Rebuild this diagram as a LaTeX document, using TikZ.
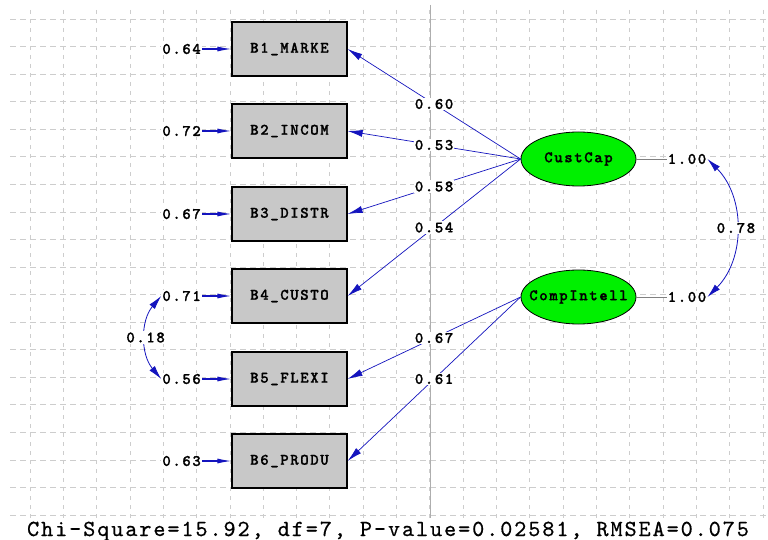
\documentclass[tikz,border=0pt]{standalone}
\usepackage{fontspec}
\newfontfamily\labfont{lmmonolt10-bold.otf}[LetterSpace=10.0, FakeBold=1.2]
\newfontfamily\botfont{lmmono10-regular.otf}[LetterSpace=8.5, FakeBold=0.6]
\usetikzlibrary{shapes.geometric,arrows.meta}
\definecolor{lblue}{RGB}{20,20,190}
\definecolor{gridc}{RGB}{205,205,205}
\definecolor{boxg}{RGB}{200,200,200}
\definecolor{latg}{RGB}{0,240,0}
\tikzset{
  lbl/.style={font=\labfont\fontsize{16}{17}\selectfont, fill=white, inner sep=1pt},
  obs/.style={rectangle, draw=black, line width=1.2pt, fill=boxg, minimum width=115pt, minimum height=54pt, inner sep=0pt, font=\labfont\fontsize{16}{17}\selectfont},
  lat/.style={ellipse, draw=black, line width=0.8pt, fill=latg, minimum width=115pt, minimum height=54pt, inner sep=0pt, font=\labfont\fontsize{16}{17}\selectfont},
  ld/.style={draw=lblue, line width=0.7pt, -{Latex[length=15pt,width=7pt]}},
  errarrow/.style={draw=lblue, line width=1.1pt, -{Latex[length=14pt,width=5pt]}},
  cov/.style={draw=lblue, line width=0.8pt, {Latex[length=14pt,width=7pt]}-{Latex[length=14pt,width=7pt]}},
  varline/.style={draw=gray, line width=0.6pt},
  hgrid/.style={draw=gridc, line width=0.8pt, dash pattern=on 6pt off 4pt},
  vgrid/.style={draw=gridc, line width=0.8pt, dash pattern=on 4pt off 5pt}
}
\begin{document}
\begin{tikzpicture}[x=1pt,y=-1pt]
\useasboundingbox (0,0) rectangle (768,540);
\fill[white] (0,0) rectangle (768,540);
% grid
\foreach \k in {0,...,18} \draw[hgrid] (10,{19+27.56*\k}) -- (768,{19+27.56*\k});
\foreach \k in {0,...,22} \draw[vgrid] ({30+33.32*\k},10) -- ({30+33.32*\k},518);
\draw[draw=gridc!85!black, line width=0.9pt] (430,5) -- (430,518);
% observed variables
\node[obs] (b1) at (289.5,49) {B1\_MARKE};
\node[obs] (b2) at (289.5,131) {B2\_INCOM};
\node[obs] (b3) at (289.5,214) {B3\_DISTR};
\node[obs] (b4) at (289.5,296) {B4\_CUSTO};
\node[obs] (b5) at (289.5,379) {B5\_FLEXI};
\node[obs] (b6) at (289.5,461) {B6\_PRODU};
% latent variables
\node[lat] (cc) at (578.5,159) {\makebox[0pt]{CustCap}};
\node[lat] (ci) at (578.5,297) {\makebox[0pt]{CompIntell}};
% error variances
\node[lbl, anchor=east] (e1) at (202,49) {0.64};
\node[lbl, anchor=east] (e2) at (202,131) {0.72};
\node[lbl, anchor=east] (e3) at (202,214) {0.67};
\node[lbl, anchor=east] (e4) at (202,296) {0.71};
\node[lbl, anchor=east] (e5) at (202,379) {0.56};
\node[lbl, anchor=east] (e6) at (202,461) {0.63};
\draw[errarrow] (e1.east) -- (b1.west);
\draw[errarrow] (e2.east) -- (b2.west);
\draw[errarrow] (e3.east) -- (b3.west);
\draw[errarrow] (e4.east) -- (b4.west);
\draw[errarrow] (e5.east) -- (b5.west);
\draw[errarrow] (e6.east) -- (b6.west);
% latent variances
\node[lbl] (v1) at (687,159) {1.00};
\node[lbl] (v2) at (687,297) {1.00};
\draw[varline] (cc.east) -- (v1.west);
\draw[varline] (ci.east) -- (v2.west);
% loadings
\draw[ld] (cc.west) -- node[lbl]{0.60} (b1.east);
\draw[ld] (cc.west) -- node[lbl]{0.53} (b2.east);
\draw[ld] (cc.west) -- node[lbl]{0.58} (b3.east);
\draw[ld] (cc.west) -- node[lbl]{0.54} (b4.east);
\draw[ld] (ci.west) -- node[lbl]{0.67} (b5.east);
\draw[ld] (ci.west) -- node[lbl]{0.61} (b6.east);
% covariances
\draw[cov] (v1.east) to[bend left=45] node[lbl]{0.78} (v2.east);
\draw[cov] (e4.west) to[bend right=40] node[lbl]{0.18} (e5.west);
% fit statistics
\node[anchor=base, inner sep=0pt, font=\botfont\fontsize{23}{25}\selectfont] (fit) at (388,536) {Chi-Square=15.92, df=7, P-value=0.02581, RMSEA=0.075};
\end{tikzpicture}
\end{document}
